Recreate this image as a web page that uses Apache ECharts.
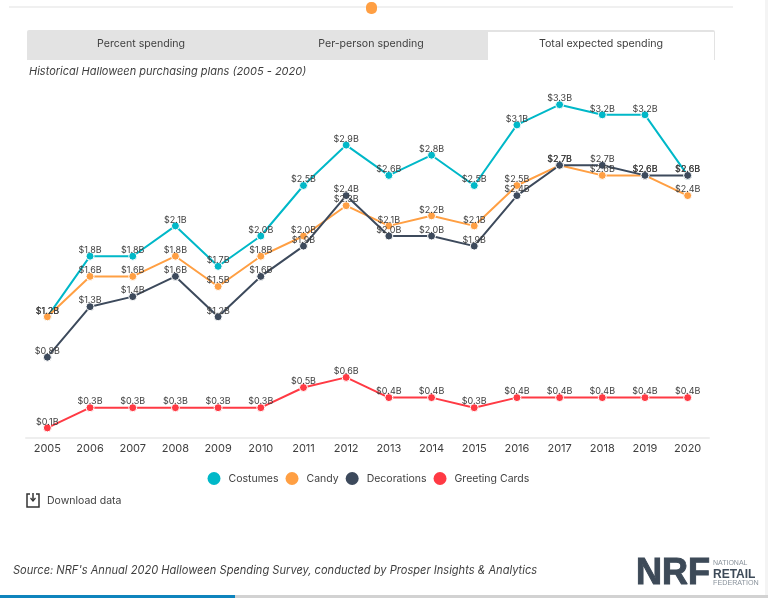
<!DOCTYPE html>
<html lang="en">

<head>
  <meta charset="UTF-8">
  <title>Historical Halloween purchasing plans</title>
  <script src="https://cdn.jsdelivr.net/npm/echarts@6/dist/echarts.min.js"></script>
  <style>
    html, body { margin: 0; padding: 0; background: #fff; }
    #chart { width: 768px; height: 598px; }
  </style>
</head>

<body>
  <div id="chart"></div>
  <script>
    var years = ['2005', '2006', '2007', '2008', '2009', '2010', '2011', '2012', '2013', '2014', '2015', '2016', '2017', '2018', '2019', '2020']
    var costumes = [1.2, 1.8, 1.8, 2.1, 1.7, 2.0, 2.5, 2.9, 2.6, 2.8, 2.5, 3.1, 3.3, 3.2, 3.2, 2.6]
    var candy = [1.2, 1.6, 1.6, 1.8, 1.5, 1.8, 2.0, 2.3, 2.1, 2.2, 2.1, 2.5, 2.7, 2.6, 2.6, 2.4]
    var decorations = [0.8, 1.3, 1.4, 1.6, 1.2, 1.6, 1.9, 2.4, 2.0, 2.0, 1.9, 2.4, 2.7, 2.7, 2.6, 2.6]
    var greetingCards = [0.1, 0.3, 0.3, 0.3, 0.3, 0.3, 0.5, 0.6, 0.4, 0.4, 0.3, 0.4, 0.4, 0.4, 0.4, 0.4]

    var font = 'Inter'
    var dark = '#3f3f3f'

    function makeSeries(name, values, color) {
      return {
        name: name,
        type: 'line',
        data: values,
        symbol: 'circle',
        symbolSize: 8,
        showAllSymbol: true,
        lineStyle: { color: color, width: 2 },
        itemStyle: { color: color, borderColor: '#fff', borderWidth: 1 },
        emphasis: { disabled: true },
        animation: false,
        label: {
          show: true,
          position: 'top',
          distance: -3,
          color: dark,
          fontFamily: font,
          fontSize: 9,
          formatter: function (p) { return '$' + p.value.toFixed(1) + 'B' }
        }
      }
    }

    function text(x, y, str, size, extra) {
      return {
        type: 'text',
        x: x,
        y: y,
        silent: true,
        style: Object.assign({
          text: str,
          fontFamily: font,
          fontSize: size,
          fill: dark,
          verticalAlign: 'middle'
        }, extra || {})
      }
    }

    var mCharts = echarts.init(document.getElementById('chart'), null, { renderer: 'canvas' })
    mCharts.setOption({
      animation: false,
      backgroundColor: '#fff',
      grid: { left: 26, right: 59, top: 84.5, height: 353.5 },
      xAxis: {
        type: 'category',
        data: years,
        axisLine: { lineStyle: { color: '#eeeeee', width: 2 } },
        axisTick: { show: false },
        axisLabel: { color: dark, fontFamily: font, fontSize: 11, margin: 5, interval: 0 }
      },
      yAxis: {
        type: 'value',
        min: 0,
        max: 3.5,
        show: false,
        splitLine: { show: false }
      },
      legend: {
        left: 207.5,
        top: 472,
        padding: 0,
        icon: 'circle',
        itemWidth: 13,
        itemHeight: 13,
        itemGap: 7,
        selectedMode: false,
        itemStyle: { borderWidth: 0 },
        lineStyle: { width: 0 },
        textStyle: { color: dark, fontFamily: font, fontSize: 10.5, padding: [0, 0, 0, 3] }
      },
      graphic: [
        // slider on top of the page
        { type: 'rect', silent: true, shape: { x: 9, y: 6, width: 724, height: 2 }, style: { fill: '#f0f0f0' } },
        { type: 'rect', silent: true, shape: { x: 366, y: 2, width: 11, height: 12, r: 5 }, style: { fill: '#ff9f43' } },
        // tabs
        { type: 'rect', silent: true, shape: { x: 27, y: 30, width: 688, height: 30, r: [2, 2, 0, 0] }, style: { fill: '#e3e3e3' } },
        { type: 'rect', silent: true, shape: { x: 488, y: 32, width: 226, height: 28 }, style: { fill: '#fff' } },
        text(141, 44, 'Percent spending', 10.6, { align: 'center' }),
        text(371, 44, 'Per-person spending', 10.6, { align: 'center' }),
        text(601, 44, 'Total expected spending', 10.7, { align: 'center' }),
        text(29, 72, 'Historical Halloween purchasing plans (2005 - 2020)', 11, { fontStyle: 'italic' }),
        // download link
        { type: 'polyline', silent: true, shape: { points: [[30, 494], [27, 494], [27, 507], [39, 507], [39, 494], [36, 494]] }, style: { stroke: '#333', lineWidth: 1.5, fill: 'none' } },
        { type: 'polyline', silent: true, shape: { points: [[33, 493], [33, 501]] }, style: { stroke: '#333', lineWidth: 1.5, fill: 'none' } },
        { type: 'polyline', silent: true, shape: { points: [[30.5, 498], [33, 501], [35.5, 498]] }, style: { stroke: '#333', lineWidth: 1.2, fill: 'none' } },
        text(47, 501, 'Download data', 10.5),
        // source and logo
        text(13, 571, "Source: NRF's Annual 2020 Halloween Spending Survey, conducted by Prosper Insights & Analytics", 11.1, { fontStyle: 'italic' }),
        text(636, 574, 'NRF', 36, { fontFamily: 'Liberation Sans', fontWeight: 'bold', fill: '#3d4a58', stroke: '#3d4a58', lineWidth: 1 }),
        text(713, 563, 'NATIONAL', 7, { fontFamily: 'Liberation Sans', fill: '#8a939c' }),
        text(713, 574.5, 'RETAIL', 12, { fontFamily: 'Liberation Sans', fontWeight: 'bold', fill: '#3d4a58' }),
        text(713, 583.5, 'FEDERATION', 7.2, { fontFamily: 'Liberation Sans', fill: '#8a939c' }),
        // bottom scroll bar
        { type: 'rect', silent: true, shape: { x: 0, y: 595, width: 235, height: 3 }, style: { fill: '#0e84bd' } },
        { type: 'rect', silent: true, shape: { x: 235, y: 595, width: 533, height: 3 }, style: { fill: '#d2d2d2' } },
        { type: 'rect', silent: true, shape: { x: 765, y: 0, width: 3, height: 595 }, style: { fill: '#f4f4f4' } }
      ],
      series: [
        makeSeries('Costumes', costumes, '#00b8c8'),
        makeSeries('Candy', candy, '#ff9f43'),
        makeSeries('Decorations', decorations, '#3d4a5c'),
        makeSeries('Greeting Cards', greetingCards, '#ff3a44')
      ]
    })
  </script>
</body>

</html>
